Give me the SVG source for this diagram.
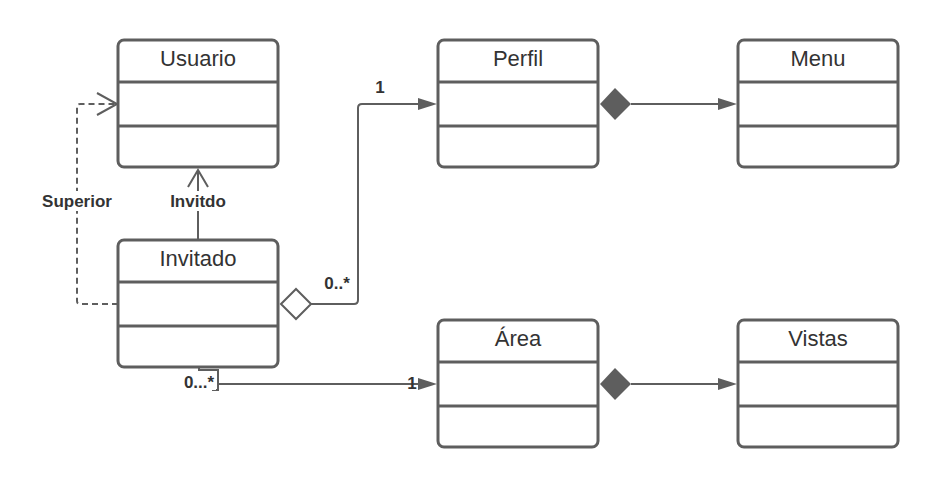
<svg xmlns="http://www.w3.org/2000/svg" width="938" height="488" viewBox="0 0 938 488">
<style>
.box{fill:#fff;stroke:#5e5e5e;stroke-width:3}
.div{stroke:#5e5e5e;stroke-width:3}
.t{font-family:"Liberation Sans",Arial,sans-serif;font-size:22px;fill:#333;text-anchor:middle}
.c{fill:none;stroke:#5e5e5e;stroke-width:2}
.l{font-family:"Liberation Sans",Arial,sans-serif;font-size:17px;font-weight:bold;fill:#333;text-anchor:middle}
</style>
<rect width="938" height="488" fill="#fff"/>
<g id="connectors">
<path class="c" d="M118 304 H80 Q77 304 77 301 V107 Q77 104 80 104 H116" stroke-dasharray="6,4"/>
<path class="c" d="M97 93 L117 104 L97 115"/>
<path class="c" d="M198 240 V170"/>
<path class="c" d="M188 187 L198 170 L208 187"/>
<path class="c" d="M311 304 H354 Q358 304 358 300 V108 Q358 104 362 104 H420"/>
<polygon points="281,304 296,289 311,304 296,319" fill="#fff" stroke="#5e5e5e" stroke-width="2"/>
<polygon points="418,98 437,104 418,110" fill="#5e5e5e"/>
<path class="c" d="M631 104 H720"/>
<polygon points="600,104 615,88 631,104 615,120" fill="#5e5e5e"/>
<polygon points="718,98 737,104 718,110" fill="#5e5e5e"/>
<path class="c" d="M631 384 H720"/>
<polygon points="600,384 615,368 631,384 615,400" fill="#5e5e5e"/>
<polygon points="718,378 737,384 718,390" fill="#5e5e5e"/>
<path class="c" d="M199 367 V370 H218 V390 H212"/>
<path class="c" d="M218 384 H420"/>
<polygon points="418,378 437,384 418,390" fill="#5e5e5e"/>
<rect x="38" y="191" width="78" height="20" fill="#fff"/>
<text class="l" x="77" y="207">Superior</text>
<rect x="165" y="191" width="66" height="20" fill="#fff"/>
<text class="l" x="198" y="207">Invitdo</text>
<text class="l" x="380" y="93">1</text>
<text class="l" x="337" y="289">0..*</text>
<rect x="181" y="372" width="35" height="18" fill="#fff"/>
<text class="l" x="199" y="388">0...*</text>
<text class="l" x="412" y="389">1</text>
</g>
<g id="usuario">
<rect class="box" x="118" y="40" width="160" height="127" rx="6"/>
<line class="div" x1="118" y1="82" x2="278" y2="82"/>
<line class="div" x1="118" y1="126" x2="278" y2="126"/>
<text class="t" x="198" y="66">Usuario</text>
</g>
<g id="invitado">
<rect class="box" x="118" y="240" width="160" height="127" rx="6"/>
<line class="div" x1="118" y1="282" x2="278" y2="282"/>
<line class="div" x1="118" y1="326" x2="278" y2="326"/>
<text class="t" x="198" y="266">Invitado</text>
</g>
<g id="perfil">
<rect class="box" x="438" y="40" width="160" height="127" rx="6"/>
<line class="div" x1="438" y1="82" x2="598" y2="82"/>
<line class="div" x1="438" y1="126" x2="598" y2="126"/>
<text class="t" x="518" y="66">Perfil</text>
</g>
<g id="menu">
<rect class="box" x="738" y="40" width="160" height="127" rx="6"/>
<line class="div" x1="738" y1="82" x2="898" y2="82"/>
<line class="div" x1="738" y1="126" x2="898" y2="126"/>
<text class="t" x="818" y="66">Menu</text>
</g>
<g id="area">
<rect class="box" x="438" y="320" width="160" height="127" rx="6"/>
<line class="div" x1="438" y1="362" x2="598" y2="362"/>
<line class="div" x1="438" y1="406" x2="598" y2="406"/>
<text class="t" x="518" y="346">Área</text>
</g>
<g id="vistas">
<rect class="box" x="738" y="320" width="160" height="127" rx="6"/>
<line class="div" x1="738" y1="362" x2="898" y2="362"/>
<line class="div" x1="738" y1="406" x2="898" y2="406"/>
<text class="t" x="818" y="346">Vistas</text>
</g>
</svg>
